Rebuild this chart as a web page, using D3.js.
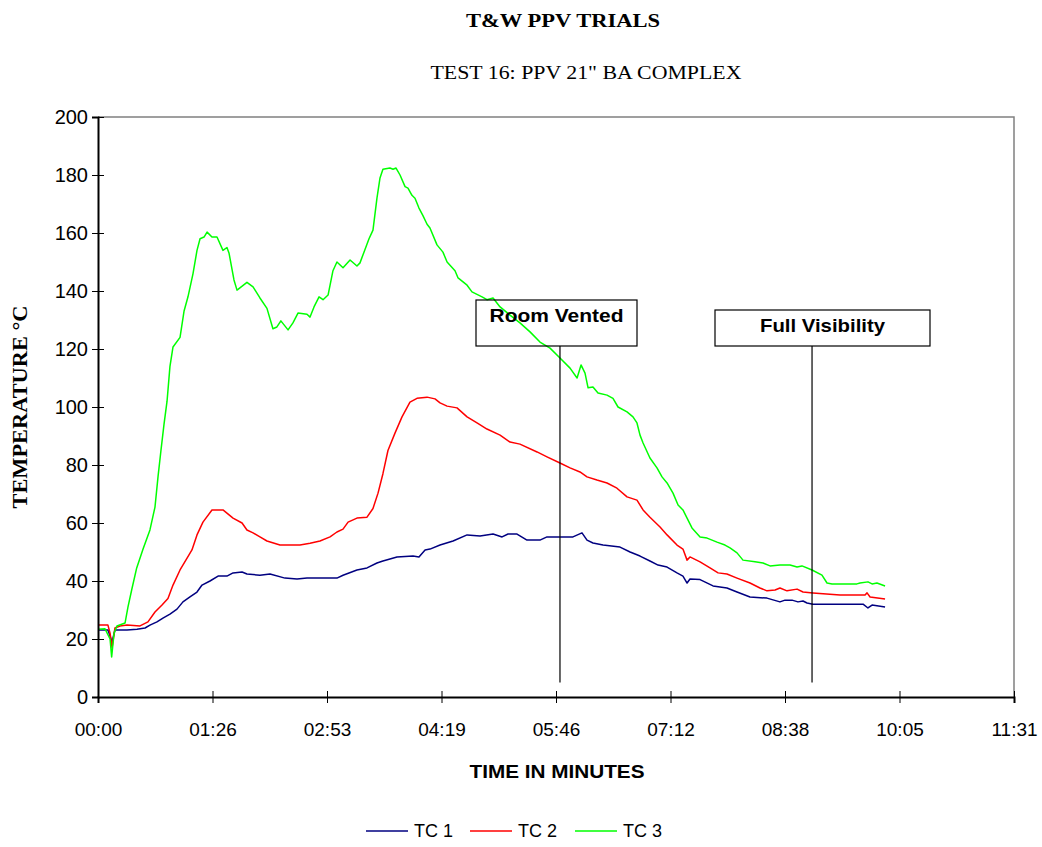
<!DOCTYPE html>
<html>
<head>
<meta charset="utf-8">
<script src="https://cdn.jsdelivr.net/npm/d3@7"></script>
<style>
  body { margin: 0; background: #fff; }
  text { fill: #000; }
</style>
</head>
<body>
<script>
// Times are seconds from start, values in degrees C
var tc1Time = [0, 7.5, 10.6, 12.8, 21.9, 29.4, 35.5, 39.2, 44.5, 49, 54.3, 59.6, 64.1, 69.4, 74.7, 78.5, 84.5, 90.6, 97.3, 101.9, 108.7, 112.4, 122.2, 129.8, 141.1, 150.2, 157.7, 169.8, 180.3, 184.9, 195.4, 203, 210.5, 215, 225.6, 237.7, 242.2, 246.8, 250.5, 258.1, 267.9, 278.5, 288.3, 298.1, 304.9, 309.4, 316.2, 323.7, 333.5, 338.8, 358.4, 365.2, 369, 373.5, 381.1, 393.9, 401.5, 409, 416.5, 422.6, 429.4, 436.9, 441.4, 444.5, 446.7, 454.3, 464.1, 474.6, 482.2, 492, 504.8, 514.6, 518.4, 523.7, 528.2, 532, 535, 539.5, 577.3, 581, 584.1, 593.9];
var tc1Temp = [23.1, 23.1, 19, 23.1, 23.1, 23.4, 23.8, 24.8, 25.9, 27.2, 28.6, 30.3, 32.8, 34.5, 36.2, 38.6, 40, 41.7, 41.7, 42.8, 43.1, 42.4, 42, 42.4, 41, 40.7, 41, 41, 41, 42, 43.8, 44.5, 46.2, 46.9, 48.3, 48.6, 48.3, 50.7, 51, 52.4, 53.8, 55.9, 55.5, 56.2, 55.2, 56.2, 56.2, 54.1, 54.1, 55.2, 55.2, 56.6, 54.1, 53.1, 52.4, 51.7, 50, 48.6, 46.9, 45.5, 44.8, 42.8, 41.7, 39.3, 40.7, 40.5, 38.3, 37.6, 36.2, 34.5, 34.1, 32.8, 33.4, 33.4, 32.8, 33.1, 32.4, 32, 32, 30.7, 31.7, 31];

var tc2Time = [0, 7.5, 9.1, 10.6, 12.8, 16.6, 21.9, 31.7, 37.7, 43, 48.3, 52.8, 56.6, 61.9, 67.2, 70.9, 74.7, 79.2, 86, 94.3, 101.9, 108.7, 112.4, 117, 122.2, 127.5, 137.3, 144.9, 152.4, 160, 167.5, 175.1, 180.3, 184.9, 188.7, 195.4, 203, 207.5, 211.3, 215, 218.8, 224.1, 229.4, 235.4, 240.7, 248.3, 254.3, 258.1, 263.4, 270.9, 278.5, 286, 293.5, 303.4, 310.9, 318.4, 331.3, 338.8, 348.6, 356.2, 363.7, 369, 376.5, 384.1, 391.6, 399.2, 406.7, 411.3, 416.5, 424.1, 429.4, 436.9, 441.4, 444.5, 446.7, 454.3, 461.8, 467.9, 474.6, 482.2, 492, 499.5, 504.8, 510.9, 514.6, 519.9, 527.5, 532, 539.5, 559.9, 578.8, 580.3, 582.6, 593.9];
var tc2Temp = [24.8, 24.8, 22, 17, 23.8, 24.5, 24.8, 24.5, 25.9, 29.3, 31.7, 34, 38.6, 43.8, 47.9, 50.7, 55.9, 60.3, 64.5, 64.5, 61.7, 60, 57.6, 56.6, 55.2, 53.8, 52.4, 52.4, 52.4, 53, 53.8, 55.2, 56.9, 57.9, 60.3, 61.7, 62, 65, 70.3, 77, 85, 91, 96.6, 101.7, 103, 103.4, 102.8, 101.4, 100.3, 99.7, 96.6, 94.5, 92.4, 90.3, 87.9, 87.2, 84.5, 82.8, 80.7, 79, 77.6, 75.9, 74.8, 73.8, 72, 69, 67.9, 64.5, 62, 58.6, 55.9, 52.4, 51, 47.2, 48.3, 46.6, 44.5, 42.8, 42.4, 41, 39.3, 37.6, 36.6, 36.9, 37.6, 36.6, 37.2, 36.2, 35.9, 35.2, 35.2, 35.9, 34.5, 33.8];

var tc3Time = [0, 5.3, 9.1, 10.3, 12.1, 14.3, 20.4, 22.6, 25.4, 29.2, 34, 39.2, 43, 45.3, 47.5, 49.8, 52.1, 54.3, 56.6, 61.9, 64.9, 67.9, 71.7, 74.7, 77, 80, 82.3, 86, 89.8, 94.3, 97.3, 98.9, 102.6, 104.9, 112.4, 117, 122.2, 127.5, 132, 135, 138, 143.4, 147.1, 150.9, 157.7, 160, 163, 166.8, 169.8, 173.6, 177.3, 180.3, 184.9, 190.2, 195.4, 197.7, 200.7, 204.5, 207.5, 210.5, 212.8, 215, 220.3, 222.6, 224.9, 227.9, 231.7, 233.9, 236.9, 239.2, 242.2, 245.2, 248.3, 250.5, 255.8, 260.3, 263.4, 269.4, 271.7, 278.5, 282.2, 289.8, 293.5, 298.1, 303.4, 310.9, 318.4, 326, 333.5, 341.1, 348.6, 356.2, 361.5, 364.5, 367.5, 369.8, 373.5, 377.3, 384.1, 388.6, 392.4, 399.2, 403.7, 406.7, 409, 411.3, 416.5, 421.8, 425.6, 429.4, 433.9, 437.7, 441.4, 444.5, 448.2, 454.3, 459.6, 467.1, 473.1, 476.9, 482.2, 486.7, 495.8, 501.8, 507.1, 514.6, 522.2, 527.5, 531.2, 538.8, 546.3, 550.1, 553.9, 572.7, 575, 581, 584.1, 587.8, 593.9];
var tc3Temp = [23.4, 23.5, 20, 13.8, 22, 24.5, 25.5, 31, 36.9, 44.5, 51, 57.6, 65.5, 76, 85, 94, 102, 114, 120.7, 124, 133, 138, 146, 154, 158, 158.6, 160.3, 158.6, 158.6, 154, 155, 153, 143.8, 140.3, 143, 141.4, 137.6, 134, 127, 127.6, 129.7, 126.6, 129, 132.4, 132, 131, 134.5, 138, 137, 138.6, 147, 150, 148, 150.7, 148.6, 149.7, 153.4, 158, 161, 172, 179, 182, 182.4, 182, 182.4, 180, 176, 175.5, 173, 172, 168.6, 166, 163, 161.7, 155.9, 153.4, 150, 147, 144.5, 142, 139.7, 138, 137, 137.6, 134.5, 131.7, 129, 125.9, 122.4, 120.3, 116.9, 113.4, 110, 114.5, 111.7, 106.6, 106.9, 104.8, 104.1, 103, 100, 98.3, 96.6, 94.5, 90.3, 87.6, 82.4, 79, 75.9, 73.8, 70.3, 66.2, 64.5, 61.7, 58.3, 55.2, 54.8, 53.4, 52.4, 51.4, 49.7, 47.2, 46.6, 46.2, 45.2, 45.5, 45.5, 44.8, 45.2, 43.8, 42, 39.3, 39, 39, 39.3, 39.7, 39, 39.3, 38.3];

var seriesNames = ["TC 1", "TC 2", "TC 3"];
var seriesColors = ["#000080", "#ff0000", "#00ff00"];

// x ticks every 0.001 day (86.4 s), like the spreadsheet axis
var xTicks = [0, 86.4, 172.8, 259.2, 345.6, 432, 518.4, 604.8, 691.2];
var yTicks = [0, 20, 40, 60, 80, 100, 120, 140, 160, 180, 200];

var eventTimes = [348.6, 538.8];
var eventLabels = ["Room Vented", "Full Visibility"];

var width = 1042;
var height = 847;
var margins = { left: 98, right: 28, top: 117, bottom: 150 };

var x = d3.scaleLinear().domain([0, 691.2]).range([margins.left, width - margins.right]);
var y = d3.scaleLinear().domain([0, 200]).range([height - margins.bottom, margins.top]);

function fmtTime(s) {
    var t = Math.round(s);
    var m = Math.floor(t / 60), sec = t % 60;
    return (m < 10 ? "0" : "") + m + ":" + (sec < 10 ? "0" : "") + sec;
}

var svg = d3.select("body").append("svg")
    .attr("width", width)
    .attr("height", height);

var sans = "'Liberation Sans', Arial, sans-serif";
var serif = "'Liberation Serif', 'Times New Roman', serif";

// stretch a label to the width it has in the original
function fitText(sel, w) {
    return sel.attr("textLength", w).attr("lengthAdjust", "spacingAndGlyphs");
}

// titles
fitText(svg.append("text")
    .attr("x", 563).attr("y", 27)
    .attr("text-anchor", "middle")
    .attr("font-family", serif).attr("font-weight", "bold").attr("font-size", "19px")
    .text("T&W PPV TRIALS"), 194);
fitText(svg.append("text")
    .attr("x", 586).attr("y", 79)
    .attr("text-anchor", "middle")
    .attr("font-family", serif).attr("font-size", "19px")
    .text("TEST 16: PPV 21\" BA COMPLEX"), 311);

// plot frame (top and right are grey)
svg.append("path")
    .attr("d", "M" + x(0) + "," + y(200) + "H" + x(691.2) + "V" + y(0))
    .attr("fill", "none").attr("stroke", "#808080").attr("stroke-width", 1.5);

// series
var series = [
    { time: tc1Time, temp: tc1Temp },
    { time: tc2Time, temp: tc2Temp },
    { time: tc3Time, temp: tc3Temp }
];
var line = d3.line().x(d => x(d[0])).y(d => y(d[1]));

series.forEach(function(s, i) {
    var pts = s.time.map((t, j) => [t, s.temp[j]]);
    svg.append("path")
        .datum(pts)
        .attr("d", line)
        .attr("fill", "none")
        .attr("stroke", seriesColors[i])
        .attr("stroke-width", 1.5)
        .attr("stroke-linejoin", "round");
});

// axes
var yAxis = svg.append("g")
    .attr("transform", "translate(" + margins.left + ",0)")
    .call(d3.axisLeft(y).tickValues(yTicks).tickSize(6).tickPadding(4));
var xAxis = svg.append("g")
    .attr("transform", "translate(0," + y(0) + ")")
    .call(d3.axisBottom(x).tickValues(xTicks).tickFormat(fmtTime).tickSize(6).tickPadding(20));

[yAxis, xAxis].forEach(function(a) {
    a.select(".domain").attr("stroke", "#000").attr("stroke-width", 2);
    a.selectAll(".tick line").attr("stroke", "#000");
    a.selectAll(".tick text").attr("font-family", sans);
});
yAxis.selectAll(".tick text").attr("font-size", "20px");
xAxis.selectAll(".tick text").attr("font-size", "19px");
// cross style ticks
yAxis.selectAll(".tick line").attr("x1", 6);
xAxis.selectAll(".tick line").attr("y1", -6);

// axis titles
fitText(svg.append("text")
    .attr("x", 557).attr("y", 778)
    .attr("text-anchor", "middle")
    .attr("font-family", sans).attr("font-weight", "bold").attr("font-size", "19px")
    .text("TIME IN MINUTES"), 175);
fitText(svg.append("text")
    .attr("transform", "translate(27,407) rotate(-90)")
    .attr("text-anchor", "middle")
    .attr("font-family", serif).attr("font-weight", "bold").attr("font-size", "20px")
    .text("TEMPERATURE °C"), 203);

// event callouts
var boxes = [
    { x0: 476, x1: 637, y0: 300, y1: 346, w: 134 },
    { x0: 715, x1: 930, y0: 310, y1: 346, w: 125 }
];
eventTimes.forEach(function(t, i) {
    var b = boxes[i];
    svg.append("line")
        .attr("x1", x(t)).attr("x2", x(t))
        .attr("y1", b.y1).attr("y2", y(5))
        .attr("stroke", "#000").attr("stroke-width", 1.2);
    svg.append("rect")
        .attr("x", b.x0).attr("y", b.y0)
        .attr("width", b.x1 - b.x0).attr("height", b.y1 - b.y0)
        .attr("fill", "none").attr("stroke", "#000").attr("stroke-width", 1.2);
    fitText(svg.append("text")
        .attr("x", (b.x0 + b.x1) / 2).attr("y", b.y0 + 22)
        .attr("text-anchor", "middle")
        .attr("font-family", sans).attr("font-weight", "bold").attr("font-size", "19px")
        .text(eventLabels[i]), b.w);
});

// legend
var legendX = [366, 470, 575];
seriesNames.forEach(function(n, i) {
    var g = svg.append("g").attr("transform", "translate(" + legendX[i] + ",831)");
    g.append("line").attr("x1", 0).attr("x2", 42)
        .attr("stroke", seriesColors[i]).attr("stroke-width", 1.5);
    g.append("text").attr("x", 48).attr("y", 6)
        .attr("font-family", sans).attr("font-size", "18px")
        .text(n);
});
</script>
</body>
</html>
